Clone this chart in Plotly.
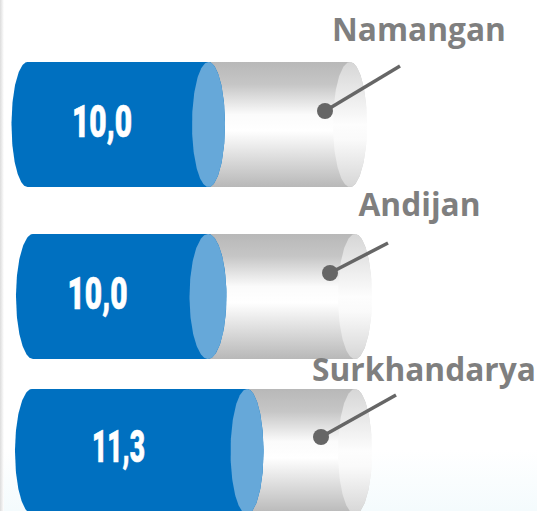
import numpy as np
import plotly.graph_objects as go

# ---- data ----
regions = ["Namangan", "Andijan", "Surkhandarya"]
values = [10.0, 10.0, 11.3]
value_labels = ["10,0", "10,0", "11,3"]

# ---- row geometry of the (hand-placed) infographic, in page pixels ----
W, H = 537, 511
Y_CENTER = [124.5, 296.5, 451.5]
RY = 62.5
START_X = [27.5, 33, 32]
PX_PER_UNIT = [18.1, 17.5, 19.03]
TRACK_END = [350, 355, 355]
AX_LEFT = [16, 17, 17]
AX_BLUE = [16.5, 18.5, 16.5]
AX_CAP = [17, 17, 17]
LABEL_X = [419, 419.5, 424]
LABEL_Y = [33, 208, 373]
VALUE_X = [102, 97.5, 118.5]
VALUE_Y = [125.5, 297.5, 451]
VALUE_WIDTH = [60, 60, 53]
LEADER_DOT = [(325, 111), (330, 273), (321, 437)]
LEADER_END = [(400, 66), (388, 243), (396, 395)]

BLUE = "#0070c0"
BLUE_CAP = "#66a8d9"
GREY_TEXT = "#7f7f7f"
LEADER = "#666666"
TRACK_SCALE = [[0, "#b8b8b8"], [0.18, "#c6c6c6"], [0.42, "#fbfbfb"], [0.55, "#ffffff"],
               [0.72, "#e4e4e4"], [1, "#b8b8b8"]]
CAP_SCALE = [[0, "#d6d6d6"], [0.5, "#fdfdfd"], [0.62, "#fafafa"], [1, "#d6d6d6"]]

t = np.linspace(0, 2 * np.pi, 181)
half = np.linspace(-np.pi / 2, np.pi / 2, 91)


def ellipse(cx, cy, ax):
    return cx + ax * np.cos(t), cy + RY * np.sin(t)


def body(x0, x1, cy, ax0, ax1):
    # closed shape: left half ellipse at x0, right half ellipse at x1
    xr = x1 + ax1 * np.cos(half)
    yr = cy + RY * np.sin(half)
    xl = x0 - ax0 * np.cos(half[::-1] * -1)
    yl = cy + RY * np.sin(half[::-1])
    return np.r_[xr, xl, xr[0]], np.r_[yr, yl, yr[0]]


def gradient(scale, cy):
    return dict(type="vertical", colorscale=scale, start=cy - RY, stop=cy + RY)


fig = go.Figure()


def fill(x, y, **kw):
    fig.add_trace(go.Scatter(x=x, y=y, mode="lines", line=dict(width=0), fill="toself",
                             hoverinfo="skip", showlegend=False, **kw))


# faint page edges
fill([0, 4, 4, 0, 0], [0, 0, H, H, 0],
     fillgradient=dict(type="horizontal", start=0, stop=4,
                       colorscale=[[0, "#dcdcdc"], [1, "#ffffff"]]))
fill([4, W, W, 4, 4], [450, 450, H, H, 450],
     fillgradient=dict(type="vertical", start=450, stop=H,
                       colorscale=[[0, "#ffffff"], [1, "#f4fbfd"]]))

for i, v in enumerate(values):
    cy = Y_CENTER[i]
    x0 = START_X[i]
    xv = x0 + v * PX_PER_UNIT[i]
    xe = TRACK_END[i]
    tx, ty = body(xv, xe, cy, 0, AX_CAP[i])
    fill(tx, ty, fillgradient=gradient(TRACK_SCALE, cy))
    cx, cyy = ellipse(xe, cy, AX_CAP[i])
    fill(cx, cyy, fillgradient=gradient(CAP_SCALE, cy))
    bx, by = body(x0, xv, cy, AX_LEFT[i], AX_BLUE[i])
    fill(bx, by, fillcolor=BLUE)
    ex, ey = ellipse(xv, cy, AX_BLUE[i])
    fill(ex, ey, fillcolor=BLUE_CAP)
    (dx, dy), (lx, ly) = LEADER_DOT[i], LEADER_END[i]
    fig.add_trace(go.Scatter(x=[lx, dx], y=[ly, dy], mode="lines",
                             line=dict(color=LEADER, width=3.5),
                             hoverinfo="skip", showlegend=False))
    fig.add_trace(go.Scatter(x=[dx], y=[dy], mode="markers",
                             marker=dict(color=LEADER, size=16),
                             hoverinfo="skip", showlegend=False))

fig.add_trace(go.Scatter(x=LABEL_X, y=LABEL_Y, mode="text", text=regions,
                         textposition="middle center", hoverinfo="skip", showlegend=False,
                         textfont=dict(family="Open Sans", size=31.7, color=GREY_TEXT, weight=700)))
fig.add_trace(go.Scatter(x=VALUE_X, y=VALUE_Y, mode="text", text=value_labels,
                         textposition="middle center", hoverinfo="skip", showlegend=False,
                         textfont=dict(family="Roboto", size=44, color="#ffffff", weight=900)))

fig.update_layout(
    width=W, height=H, margin=dict(l=0, r=0, t=0, b=0),
    paper_bgcolor="#ffffff", plot_bgcolor="rgba(0,0,0,0)", showlegend=False,
    xaxis=dict(range=[0, W], visible=False, fixedrange=True),
    yaxis=dict(range=[H, 0], visible=False, fixedrange=True),
)

# No condensed heavy face is installed: squeeze the value labels to their width.
squeeze = """
document.body.style.margin='0';document.body.style.overflow='hidden';
var w = %s, tx = document.querySelectorAll('.textpoint text'), n = tx.length;
for (var i = 0; i < 3; i++) {
  var e = tx[n - 3 + i];
  e.setAttribute('textLength', w[i]);
  e.setAttribute('lengthAdjust', 'spacingAndGlyphs');
  e.style.stroke = '#ffffff';
  e.style.strokeWidth = '0.7px';
}
""" % VALUE_WIDTH
fig.write_html("out.html", config=dict(displayModeBar=False), post_script=squeeze)
